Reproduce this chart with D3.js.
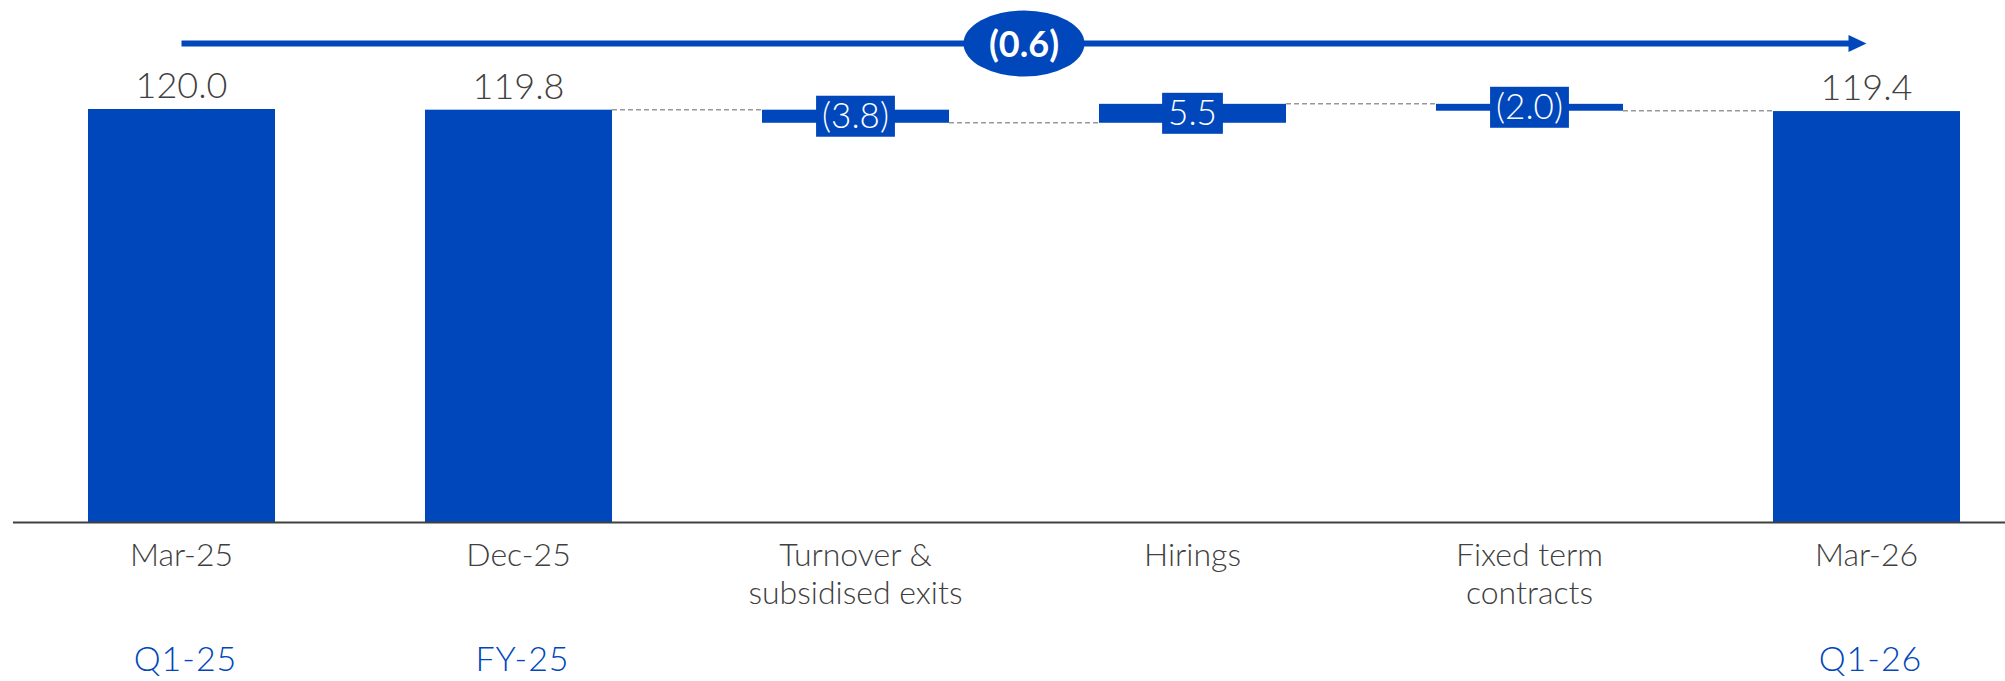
<!DOCTYPE html>
<html>
<head>
<meta charset="utf-8">
<script src="https://cdn.jsdelivr.net/npm/d3@7"></script>
<style>
  html, body { margin: 0; padding: 0; background: #ffffff; }
  svg { display: block; }
  text { font-family: Lato, "Open Sans", sans-serif; }
</style>
</head>
<body>
<script>
// ---------------- DATA ----------------
const categories = ["Mar-25", "Dec-25", "Turnover & subsidised exits", "Hirings", "Fixed term contracts", "Mar-26"];
const categoryLines = [["Mar-25"], ["Dec-25"], ["Turnover &", "subsidised exits"], ["Hirings"], ["Fixed term", "contracts"], ["Mar-26"]];
const periodLabels = ["Q1-25", "FY-25", "", "", "", "Q1-26"];
const barTypes = ["total", "total", "delta", "delta", "delta", "total"];
const values = [120.0, 119.8, -3.8, 5.5, -2.0, 119.4];
const valueLabels = ["120.0", "119.8", "(3.8)", "5.5", "(2.0)", "119.4"];
const overallChange = -0.6;
const overallChangeLabel = "(0.6)";

// ---------------- LAYOUT ----------------
const W = 2005, H = 681;
const BLUE = "#0047BB";
const DARK = "#404040";

const svg = d3.select("body").append("svg").attr("width", W).attr("height", H);

const x = d3.scaleBand().domain(categories).range([13, 2035]).paddingInner(0.445).paddingOuter(0.2225);
const y = d3.scaleLinear().domain([0, 120]).range([522, 109]);

// compute waterfall segments
let running = 0;
const segs = categories.map((c, i) => {
  let start, end;
  if (barTypes[i] === "total") { start = 0; end = values[i]; running = values[i]; }
  else { start = running; end = running + values[i]; running = end; }
  return { cat: c, i, start, end, type: barTypes[i], label: valueLabels[i] };
});

// connectors (between consecutive bars, after the first total)
const conn = svg.append("g");
for (let i = 1; i < segs.length - 1; i++) {
  const lvl = segs[i].end;
  conn.append("line")
    .attr("x1", x(segs[i].cat) + x.bandwidth())
    .attr("x2", x(segs[i + 1].cat))
    .attr("y1", y(lvl)).attr("y2", y(lvl))
    .attr("stroke", "#999").attr("stroke-width", 1.5)
    .attr("stroke-dasharray", "5,3");
}

// bars
svg.append("g").selectAll("rect").data(segs).join("rect")
  .attr("x", d => x(d.cat))
  .attr("width", x.bandwidth())
  .attr("y", d => y(Math.max(d.start, d.end)))
  .attr("height", d => Math.abs(y(d.start) - y(d.end)))
  .attr("fill", BLUE);

// axis baseline
svg.append("line").attr("x1", 13).attr("x2", W).attr("y1", y(0) + 0.5).attr("y2", y(0) + 0.5)
  .attr("stroke", DARK).attr("stroke-width", 2);

// total value labels
svg.append("g").selectAll("text").data(segs.filter(d => d.type === "total")).join("text")
  .attr("x", d => x(d.cat) + x.bandwidth() / 2)
  .attr("y", d => y(d.end) - 11)
  .attr("text-anchor", "middle")
  .attr("font-size", 36)
  .attr("font-weight", 300)
  .attr("fill", DARK)
  .text(d => d.label);

// delta labels on boxes
const dl = svg.append("g").selectAll("g").data(segs.filter(d => d.type === "delta")).join("g");
dl.each(function(d) {
  const g = d3.select(this);
  const cx = x(d.cat) + x.bandwidth() / 2;
  const cy = (y(d.start) + y(d.end)) / 2;
  const t = g.append("text")
    .attr("x", cx).attr("y", cy + 12)
    .attr("text-anchor", "middle")
    .attr("font-size", 35)
    .attr("font-weight", 300)
    .attr("fill", "#ffffff")
    .text(d.label);
  const bw = t.node().getComputedTextLength() + 12;
  g.insert("rect", "text")
    .attr("x", cx - bw / 2).attr("width", bw)
    .attr("y", cy - 20.5).attr("height", 41)
    .attr("fill", BLUE);
});

// category labels
const cl = svg.append("g").selectAll("text").data(segs).join("text")
  .attr("x", d => x(d.cat) + x.bandwidth() / 2)
  .attr("y", 566)
  .attr("text-anchor", "middle")
  .attr("font-size", 32)
  .attr("font-weight", 300)
  .attr("fill", DARK);
cl.each(function(d) {
  const lines = categoryLines[d.i];
  d3.select(this).selectAll("tspan").data(lines).join("tspan")
    .attr("x", x(d.cat) + x.bandwidth() / 2)
    .attr("dy", (l, k) => k === 0 ? 0 : 38)
    .text(l => l);
});

// period labels
svg.append("g").selectAll("text").data(segs.filter(d => periodLabels[d.i] !== "")).join("text")
  .attr("x", d => x(d.cat) + x.bandwidth() / 2 + 4)
  .attr("y", 671)
  .attr("text-anchor", "middle")
  .attr("font-size", 34)
  .attr("font-weight", 300)
  .attr("letter-spacing", 1)
  .attr("fill", BLUE)
  .text(d => periodLabels[d.i]);

// overall change arrow
const ay = 43.5;
const ax1 = x(categories[0]) + x.bandwidth() / 2;
const ax2 = x(categories[categories.length - 1]) + x.bandwidth() / 2;
svg.append("line").attr("x1", ax1).attr("x2", ax2 - 17).attr("y1", ay).attr("y2", ay)
  .attr("stroke", BLUE).attr("stroke-width", 6);
svg.append("path")
  .attr("d", `M${ax2 - 18},${ay - 8.5} L${ax2},${ay} L${ax2 - 18},${ay + 8.5} Z`)
  .attr("fill", BLUE);
const ecx = (ax1 + ax2) / 2;
svg.append("ellipse").attr("cx", ecx).attr("cy", ay).attr("rx", 60.5).attr("ry", 33)
  .attr("fill", BLUE);
svg.append("text").attr("x", ecx).attr("y", ay + 13)
  .attr("text-anchor", "middle")
  .attr("font-size", 36).attr("font-weight", 700)
  .attr("fill", "#ffffff")
  .text(overallChangeLabel);
</script>
</body>
</html>
